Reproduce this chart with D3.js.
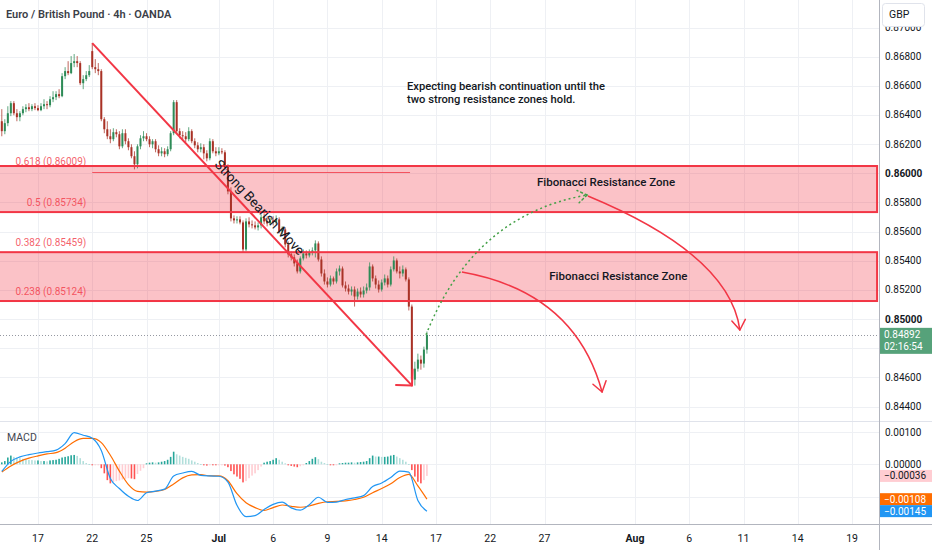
<!DOCTYPE html>
<html><head><meta charset="utf-8">
<script src="https://cdn.jsdelivr.net/npm/d3@7"></script>
<style>
html,body{margin:0;padding:0;background:#fff;overflow:hidden;}
svg{display:block;font-family:Roboto,"Noto Sans",sans-serif;}
</style></head><body>
<svg id="c" width="932" height="550"></svg>
<script>
// ---------------- DATA ----------------
const chartTitle = "Euro / British Pound · 4h · OANDA";
const currency = "GBP";

const candleOpen = [
0.86357,0.86289,0.86344,0.86412,0.86481,0.86412, 0.86385,0.86412,0.86440,0.86453,0.86440,0.86460,
0.86447,0.86433,0.86460,0.86474,0.86467,0.86508, 0.86522,0.86543,0.86529,0.86666,0.86701,0.86687,
0.86756,0.86769,0.86756,0.86618,0.86646,0.86673, 0.86838,0.86728,0.86714,0.86701,0.86371,0.86302,
0.86254,0.86234,0.86282,0.86268,0.86185,0.86275, 0.86220,0.86179,0.86117,0.86062,0.86185,0.86240,
0.86254,0.86234,0.86199,0.86220,0.86165,0.86137, 0.86151,0.86131,0.86165,0.86275,0.86488,0.86289,
0.86261,0.86254,0.86234,0.86289,0.86220,0.86192, 0.86165,0.86179,0.86137,0.86103,0.86220,0.86151,
0.86137,0.86151,0.86144,0.86048,0.85876,0.85691, 0.85677,0.85684,0.85663,0.85478,0.85670,0.85650,
0.85643,0.85629,0.85643,0.85698,0.85670,0.85656, 0.85677,0.85663,0.85684,0.85602,0.85615,0.85512,
0.85444,0.85423,0.85382,0.85327,0.85416,0.85450, 0.85437,0.85457,0.85471,0.85519,0.85409,0.85313,
0.85258,0.85237,0.85279,0.85258,0.85327,0.85347, 0.85231,0.85210,0.85189,0.85203,0.85155,0.85189,
0.85169,0.85196,0.85217,0.85361,0.85279,0.85237, 0.85203,0.85251,0.85279,0.85237,0.85341,0.85402,
0.85327,0.85313,0.85341,0.85272,0.85086,0.84585, 0.84660,0.84722,0.84695,0.84791];
const candleHigh = [
0.86440,0.86371,0.86460,0.86495,0.86495,0.86440, 0.86426,0.86460,0.86474,0.86481,0.86474,0.86481,
0.86467,0.86481,0.86508,0.86495,0.86529,0.86563, 0.86563,0.86577,0.86687,0.86728,0.86769,0.86804,
0.86818,0.86804,0.86769,0.86673,0.86701,0.86742, 0.86893,0.86783,0.86756,0.86714,0.86385,0.86357,
0.86302,0.86309,0.86302,0.86289,0.86302,0.86302, 0.86240,0.86199,0.86151,0.86199,0.86261,0.86289,
0.86275,0.86254,0.86234,0.86234,0.86192,0.86179, 0.86172,0.86185,0.86289,0.86502,0.86502,0.86309,
0.86289,0.86282,0.86316,0.86302,0.86240,0.86213, 0.86206,0.86199,0.86158,0.86240,0.86234,0.86179,
0.86179,0.86172,0.86158,0.86062,0.85904,0.85711, 0.85705,0.85705,0.85677,0.85691,0.85698,0.85677,
0.85670,0.85663,0.85718,0.85725,0.85705,0.85698, 0.85705,0.85711,0.85698,0.85636,0.85629,0.85533,
0.85464,0.85444,0.85409,0.85430,0.85478,0.85471, 0.85478,0.85492,0.85540,0.85533,0.85430,0.85341,
0.85286,0.85299,0.85292,0.85347,0.85368,0.85361, 0.85258,0.85237,0.85224,0.85224,0.85210,0.85217,
0.85224,0.85244,0.85389,0.85375,0.85299,0.85265, 0.85272,0.85306,0.85299,0.85361,0.85430,0.85416,
0.85361,0.85368,0.85354,0.85286,0.85100,0.84708, 0.84763,0.84750,0.84811,0.84915];
const candleLow = [
0.86254,0.86268,0.86323,0.86392,0.86398,0.86357, 0.86357,0.86398,0.86419,0.86426,0.86426,0.86433,
0.86426,0.86426,0.86440,0.86440,0.86453,0.86488, 0.86502,0.86515,0.86522,0.86646,0.86673,0.86680,
0.86728,0.86728,0.86605,0.86577,0.86632,0.86660, 0.86714,0.86687,0.86673,0.86357,0.86275,0.86234,
0.86206,0.86220,0.86247,0.86165,0.86172,0.86199, 0.86158,0.86103,0.86027,0.86034,0.86165,0.86220,
0.86220,0.86179,0.86172,0.86144,0.86117,0.86117, 0.86110,0.86117,0.86151,0.86261,0.86268,0.86240,
0.86234,0.86213,0.86220,0.86206,0.86172,0.86144, 0.86144,0.86096,0.86082,0.86089,0.86137,0.86117,
0.86124,0.86131,0.86027,0.85856,0.85670,0.85656, 0.85656,0.85650,0.85457,0.85464,0.85629,0.85622,
0.85615,0.85608,0.85622,0.85650,0.85636,0.85643, 0.85643,0.85650,0.85588,0.85581,0.85492,0.85423,
0.85402,0.85361,0.85313,0.85313,0.85402,0.85416, 0.85423,0.85437,0.85423,0.85395,0.85292,0.85237,
0.85217,0.85224,0.85237,0.85244,0.85299,0.85217, 0.85189,0.85169,0.85162,0.85086,0.85134,0.85148,
0.85148,0.85176,0.85196,0.85258,0.85210,0.85182, 0.85189,0.85231,0.85217,0.85224,0.85327,0.85313,
0.85279,0.85292,0.85258,0.85059,0.84550,0.84544, 0.84640,0.84653,0.84667,0.84763];
const candleClose = [
0.86289,0.86344,0.86412,0.86481,0.86412,0.86385, 0.86412,0.86440,0.86453,0.86440,0.86460,0.86447,
0.86433,0.86460,0.86474,0.86467,0.86508,0.86522, 0.86543,0.86529,0.86666,0.86701,0.86687,0.86756,
0.86769,0.86756,0.86618,0.86646,0.86673,0.86701, 0.86728,0.86714,0.86701,0.86371,0.86302,0.86254,
0.86234,0.86282,0.86268,0.86185,0.86275,0.86220, 0.86179,0.86117,0.86062,0.86185,0.86240,0.86254,
0.86234,0.86199,0.86220,0.86165,0.86137,0.86151, 0.86131,0.86165,0.86275,0.86488,0.86289,0.86261,
0.86254,0.86234,0.86289,0.86220,0.86192,0.86165, 0.86179,0.86137,0.86103,0.86220,0.86151,0.86137,
0.86151,0.86144,0.86048,0.85876,0.85691,0.85677, 0.85684,0.85663,0.85478,0.85670,0.85650,0.85643,
0.85629,0.85643,0.85698,0.85670,0.85656,0.85677, 0.85663,0.85684,0.85602,0.85615,0.85512,0.85444,
0.85423,0.85382,0.85327,0.85416,0.85450,0.85437, 0.85457,0.85471,0.85519,0.85409,0.85313,0.85258,
0.85237,0.85279,0.85258,0.85327,0.85347,0.85231, 0.85210,0.85189,0.85203,0.85155,0.85189,0.85169,
0.85196,0.85217,0.85361,0.85279,0.85237,0.85203, 0.85251,0.85279,0.85237,0.85341,0.85402,0.85327,
0.85313,0.85341,0.85272,0.85086,0.84585,0.84660, 0.84722,0.84695,0.84791,0.84892];

// MACD lines sampled every 3rd candle
const macdStep = 3;
const macdLine = [-0.00022,0.00009,0.00023,0.00030,0.00035,0.00039,0.00044,0.00064,0.00098,0.00090,0.00081,0.00043,
-0.00044,-0.00075,-0.00099,-0.00112,-0.00088,-0.00083,-0.00077,-0.00036,-0.00027,-0.00022,-0.00034,-0.00036,
-0.00037,-0.00055,-0.00127,-0.00162,-0.00159,-0.00140,-0.00124,-0.00117,-0.00135,-0.00142,-0.00125,-0.00102,
-0.00118,-0.00117,-0.00109,-0.00104,-0.00097,-0.00069,-0.00058,-0.00041,-0.00021,-0.00024,-0.00112,-0.00145];
const signalLine = [-0.00024,-0.00005,0.00009,0.00019,0.00026,0.00032,0.00036,0.00050,0.00070,0.00080,0.00080,0.00067,
0.00028,-0.00021,-0.00063,-0.00084,-0.00086,-0.00084,-0.00078,-0.00061,-0.00042,-0.00033,-0.00032,-0.00036,
-0.00036,-0.00051,-0.00091,-0.00119,-0.00134,-0.00143,-0.00134,-0.00126,-0.00130,-0.00133,-0.00129,-0.00121,
-0.00116,-0.00115,-0.00113,-0.00109,-0.00102,-0.00088,-0.00075,-0.00060,-0.00041,-0.00031,-0.00067,-0.00108];
const macdHist = [
0.00006,0.00010,0.00021,0.00027,0.00023,0.00021,0.00019,0.00017,0.00015,0.00014,0.00013,0.00012,
0.00012,0.00010,0.00010,0.00009,0.00012,0.00013,0.00014,0.00017,0.00021,0.00023,0.00025,0.00028,
0.00029,0.00026,0.00019,0.00010,0.00004,0.00001,-0.00001,-0.00001,-0.00001,-0.00012,-0.00028,-0.00049,
-0.00059,-0.00055,-0.00052,-0.00050,-0.00047,-0.00045,-0.00043,-0.00044,-0.00046,-0.00030,-0.00020,-0.00012,
0.00003,0.00005,0.00006,0.00005,0.00006,0.00008,0.00010,0.00014,0.00023,0.00039,0.00031,0.00027,
0.00023,0.00020,0.00017,0.00012,0.00008,0.00004,0.00001,-0.00003,-0.00004,-0.00001,-0.00002,-0.00003,
-0.00002,-0.00002,-0.00004,-0.00009,-0.00021,-0.00031,-0.00038,-0.00045,-0.00056,-0.00052,-0.00043,-0.00035,
-0.00028,-0.00018,-0.00007,0.00005,0.00008,0.00010,0.00014,0.00019,0.00014,0.00008,0.00003,-0.00003,
-0.00005,-0.00007,-0.00009,-0.00006,-0.00001,0.00004,0.00010,0.00017,0.00022,0.00016,0.00008,0.00004,
0.00001,-0.00001,-0.00003,-0.00001,0.00003,0.00004,0.00005,0.00005,0.00006,0.00005,0.00006,0.00007,
0.00008,0.00010,0.00019,0.00027,0.00024,0.00024,0.00023,0.00023,0.00024,0.00027,0.00029,0.00024,
0.00019,0.00014,0.00008,0.00001,-0.00018,-0.00038,-0.00054,-0.00059,-0.00049,-0.00036];

const priceTicks = [0.870,0.868,0.866,0.864,0.862,0.860,0.858,0.856,0.854,0.852,0.850,0.848,0.846,0.844];
const boldPriceTicks = [0.860,0.850];
const macdTicks = [0.001,0,-0.001];
const dateTickLabels = ["17","22","25","Jul","6","9","14","17","22","27","Aug","6","11","14","19"];
const dateTickDay    = [2,5,8,12,15,18,21,24,27,30,35,38,41,44,47];
const monthLabels = ["Jul","Aug"];
const candlesPerDay = 6;
const lastPrice = 0.84892, countdown = "02:16:54";

// drawings (anchored in candle index / price)
const trendIdx = [30,136.05], trendPrice = [0.86893,0.84544];
const trendText = "Strong Bearish Move";
const fibLevels = [0.618,0.5,0.382,0.238], fibPrices = [0.86009,0.85734,0.85459,0.85124], fibIdx = [30,135.4];
const zoneTop = [0.86050,0.85459], zoneBottom = [0.85734,0.85124], zoneEndIdx = 290.3;
const zoneText = "Fibonacci Resistance Zone";
const zoneTextIdx = [200.4,204.5], zoneTextPrice = [0.85942,0.85295];
const noteLines = ["Expecting bearish continuation until the","two strong resistance zones hold."];
const noteIdx = 134.4, notePrice = 0.86596;
const curveIdx   = [[140.7,156.3,194.1],[194.4,241.5,244.8],[152.6,190.1,199.1]];
const curvePrice = [[0.84892,0.85714,0.85851],[0.85844,0.85440,0.84925],[0.85323,0.85186,0.84500]];

// ---------------- LAYOUT ----------------
const W=932, H=550, axisX=879, mainBottom=421, macdBottom=524;
const x  = d3.scaleLinear().domain([0,292]).range([1.8,882.2]);
const y  = d3.scaleLinear().domain([0.85,0.86]).range([319.1,173.3]);
const ym = d3.scaleLinear().domain([-0.001,0.001]).range([496.6,432.0]);
const UP="#2E8B57", DOWN="#A93226", RED="#F23645", GRID="#eef0f4", TXT="#131722";
const crisp = v => Math.round(v)+0.5;

const svg = d3.select("#c");
svg.append("rect").attr("width",W).attr("height",H).attr("fill","#fff");
const defs = svg.append("defs");
defs.append("clipPath").attr("id","mainClip").append("rect").attr("x",0).attr("y",0).attr("width",axisX).attr("height",mainBottom);
defs.append("clipPath").attr("id","macdClip").append("rect").attr("x",0).attr("y",mainBottom).attr("width",axisX).attr("height",macdBottom-mainBottom);

// grid
const grid = svg.append("g").attr("stroke",GRID).attr("stroke-width",1);
dateTickDay.forEach(d=>{
  const xx = crisp(x(d*candlesPerDay));
  grid.append("line").attr("x1",xx).attr("x2",xx).attr("y1",0).attr("y2",macdBottom);
});
priceTicks.forEach(p=>{
  grid.append("line").attr("x1",0).attr("x2",axisX).attr("y1",crisp(y(p))).attr("y2",crisp(y(p)));
});
macdTicks.forEach(v=>{
  grid.append("line").attr("x1",0).attr("x2",axisX).attr("y1",crisp(ym(v))).attr("y2",crisp(ym(v)));
});

const main = svg.append("g").attr("clip-path","url(#mainClip)");

// zones fill
zoneTop.forEach((t,k)=>{
  main.append("rect").attr("x",-5).attr("y",y(t)).attr("width",x(zoneEndIdx)+5).attr("height",y(zoneBottom[k])-y(t))
    .attr("fill",RED).attr("fill-opacity",0.3);
});

// current price dotted line
main.append("line").attr("x1",0).attr("x2",axisX).attr("y1",crisp(y(lastPrice))).attr("y2",crisp(y(lastPrice)))
  .attr("stroke","#9598a1").attr("stroke-width",1).attr("stroke-dasharray","1,2");

// candles
const cg = main.append("g");
candleClose.forEach((c,i)=>{
  const o=candleOpen[i], col = c>=o?UP:DOWN, cx=x(i);
  cg.append("line").attr("x1",cx).attr("x2",cx).attr("y1",y(candleHigh[i])).attr("y2",y(candleLow[i]))
    .attr("stroke",col).attr("stroke-width",1).attr("stroke-opacity",0.75);
  const top=Math.min(y(o),y(c)), h=Math.max(1,Math.abs(y(o)-y(c)));
  cg.append("rect").attr("x",cx-1).attr("y",top).attr("width",2).attr("height",h).attr("fill",col);
});

// zone borders
zoneTop.forEach((t,k)=>{
  main.append("rect").attr("x",-5).attr("y",y(t)).attr("width",x(zoneEndIdx)+5).attr("height",y(zoneBottom[k])-y(t))
    .attr("fill","none").attr("stroke",RED).attr("stroke-width",2);
});

// fib lines + labels
fibPrices.forEach((p,k)=>{
  main.append("line").attr("x1",x(fibIdx[0])).attr("x2",x(fibIdx[1])).attr("y1",crisp(y(p))).attr("y2",crisp(y(p)))
    .attr("stroke",RED).attr("stroke-width",1).attr("stroke-opacity",0.8);
  main.append("text").attr("x",x(fibIdx[0])-6).attr("y",y(p)-10).attr("text-anchor","end").attr("dominant-baseline","central")
    .attr("font-size",10).attr("fill",RED).attr("fill-opacity",0.8).text(`${fibLevels[k]} (${p.toFixed(5)})`);
});

// trend line with arrow
const tx1=x(trendIdx[0]), ty1=y(trendPrice[0]), tx2=x(trendIdx[1]), ty2=y(trendPrice[1]);
main.append("line").attr("x1",tx1).attr("y1",ty1).attr("x2",tx2).attr("y2",ty2).attr("stroke",RED).attr("stroke-width",2);
function arrowHead(g, tipX, tipY, fromX, fromY, len, half, stroke, width, dash){
  const a = Math.atan2(tipY-fromY, tipX-fromX) + Math.PI;
  [a-half, a+half].forEach(b=>{
    const l = g.append("line").attr("x1",tipX).attr("y1",tipY).attr("x2",tipX+len*Math.cos(b)).attr("y2",tipY+len*Math.sin(b))
      .attr("stroke",stroke).attr("stroke-width",width).attr("stroke-linecap","round");
    if(dash) l.attr("stroke-dasharray",dash);
  });
}
arrowHead(main, tx2, ty2, tx1, ty1, 16, Math.PI/4, RED, 2);
const ang = Math.atan2(ty2-ty1, tx2-tx1);
const mx=(tx1+tx2)/2 + 10.5*Math.sin(ang), my=(ty1+ty2)/2 - 10.5*Math.cos(ang);
main.append("text").attr("transform",`translate(${mx},${my}) rotate(${ang*180/Math.PI})`)
  .attr("text-anchor","middle").attr("dominant-baseline","central").attr("font-size",13.5).attr("fill",TXT).text(trendText);

// curved arrows
curveIdx.forEach((ids,k)=>{
  const P = ids.map((id,j)=>[x(id), y(curvePrice[k][j])]);
  const green = k===0;
  const col = green ? "#43A047" : RED, dash = green ? "2,3" : null, w = 1.5;
  const path = main.append("path").attr("d",`M${P[0][0]},${P[0][1]} Q${P[1][0]},${P[1][1]} ${P[2][0]},${P[2][1]}`)
    .attr("fill","none").attr("stroke",col).attr("stroke-width",w);
  if(dash) path.attr("stroke-dasharray",dash);
  arrowHead(main, P[2][0], P[2][1], P[1][0], P[1][1], green?11:12, 0.6, col, w, dash);
});

// texts
noteLines.forEach((t,k)=>{
  main.append("text").attr("x",x(noteIdx)).attr("y",y(notePrice)+k*12.6).attr("dominant-baseline","central")
    .attr("font-size",11.2).attr("font-weight",500).attr("fill",TXT).text(t);
});
zoneTextIdx.forEach((id,k)=>{
  main.append("text").attr("x",x(id)).attr("y",y(zoneTextPrice[k])).attr("text-anchor","middle").attr("dominant-baseline","central")
    .attr("font-size",11.5).attr("font-weight",500).attr("fill",TXT).text(zoneText);
});

// ---------------- MACD pane ----------------
const mg = svg.append("g").attr("clip-path","url(#macdClip)");
macdHist.forEach((v,i)=>{
  const prev = i>0 ? macdHist[i-1] : v;
  const col = v>=0 ? (v>=prev ? "#26A69A" : "#B2DFDB") : (v<prev ? "#FF5252" : "#FFCDD2");
  const y0=ym(0), y1=ym(v);
  mg.append("rect").attr("x",x(i)-0.8).attr("width",1.6).attr("y",Math.min(y0,y1)).attr("height",Math.max(1,Math.abs(y1-y0))).attr("fill",col);
});
const lineGen = d3.line().x(d=>x(d[0])).y(d=>ym(d[1])).curve(d3.curveMonotoneX);
const sigPts = signalLine.map((v,k)=>[k*macdStep, v]);
const macdPts = macdLine.map((v,k)=>[k*macdStep, v]);
mg.append("path").attr("d",lineGen(sigPts)).attr("fill","none").attr("stroke","#FF6D00").attr("stroke-width",1.2);
mg.append("path").attr("d",lineGen(macdPts)).attr("fill","none").attr("stroke","#2196F3").attr("stroke-width",1.2);
svg.append("text").attr("x",7).attr("y",437).attr("dominant-baseline","central").attr("font-size",10.5).attr("fill","#434651").text("MACD");

// ---------------- borders ----------------
svg.append("line").attr("x1",0).attr("x2",W).attr("y1",crisp(mainBottom)).attr("y2",crisp(mainBottom)).attr("stroke","#e0e3eb");
svg.append("line").attr("x1",0).attr("x2",W).attr("y1",crisp(macdBottom)).attr("y2",crisp(macdBottom)).attr("stroke","#b2b5be");
svg.append("line").attr("x1",crisp(axisX)).attr("x2",crisp(axisX)).attr("y1",0).attr("y2",H).attr("stroke","#b2b5be");

// ---------------- price axis ----------------
const fmt = v => (v<0?"\u2212":"") + Math.abs(v).toFixed(5);
const badgeTop = y(lastPrice)-7, badgeBot = y(lastPrice)+19;
const pa = svg.append("g").attr("font-size",10).attr("fill",TXT);
priceTicks.forEach(p=>{
  const yy=y(p);
  if(yy>badgeTop-6 && yy<badgeBot+6) return;
  pa.append("text").attr("x",885).attr("y",yy).attr("dominant-baseline","central")
    .attr("font-weight", boldPriceTicks.includes(p)?700:400).text(p.toFixed(5));
});
// MACD axis + badges
const hLast = macdHist[macdHist.length-1], mLast = macdLine[macdLine.length-1], sLast = signalLine[signalLine.length-1];
const badges = [
  {v:hLast, fill:"#FFCDD2", txt:TXT},
  {v:sLast, fill:"#FF6D00", txt:"#fff"},
  {v:mLast, fill:"#2196F3", txt:"#fff"}
];
macdTicks.forEach(v=>{
  const yy=ym(v);
  if(badges.some(b=>Math.abs(ym(b.v)-yy)<10)) return;
  pa.append("text").attr("x",885).attr("y",yy).attr("dominant-baseline","central").text(fmt(v));
});
badges.forEach(b=>{
  const yy=ym(b.v);
  svg.append("rect").attr("x",880).attr("y",yy-6).attr("width",52).attr("height",12).attr("fill",b.fill);
  svg.append("text").attr("x",884).attr("y",yy).attr("dominant-baseline","central").attr("font-size",10).attr("fill",b.txt).text(fmt(b.v));
});
// last price badge
svg.append("rect").attr("x",880).attr("y",badgeTop).attr("width",52).attr("height",badgeBot-badgeTop).attr("fill","#56a27a");
svg.append("text").attr("x",884).attr("y",y(lastPrice)).attr("dominant-baseline","central").attr("font-size",10).attr("fill","#fff").text(lastPrice.toFixed(5));
svg.append("text").attr("x",884).attr("y",y(lastPrice)+12).attr("dominant-baseline","central").attr("font-size",10).attr("fill","#fff").text(countdown);
// currency box
svg.append("rect").attr("x",882.5).attr("y",3.5).attr("width",42).attr("height",23).attr("rx",3).attr("fill","#fff").attr("stroke","#e0e3eb");
svg.append("text").attr("x",889).attr("y",14.5).attr("dominant-baseline","central").attr("font-size",10.5).attr("fill",TXT).text(currency);

// ---------------- time axis ----------------
dateTickLabels.forEach((lab,k)=>{
  svg.append("text").attr("x",x(dateTickDay[k]*candlesPerDay)).attr("y",538).attr("text-anchor","middle").attr("dominant-baseline","central")
    .attr("font-size",10.5).attr("fill",TXT).attr("font-weight",monthLabels.includes(lab)?700:400).text(lab);
});

// title
svg.append("text").attr("x",6).attr("y",14).attr("dominant-baseline","central").attr("font-size",11).attr("font-weight",600)
  .attr("fill","#3b3e47").text(chartTitle);
</script>
</body></html>
